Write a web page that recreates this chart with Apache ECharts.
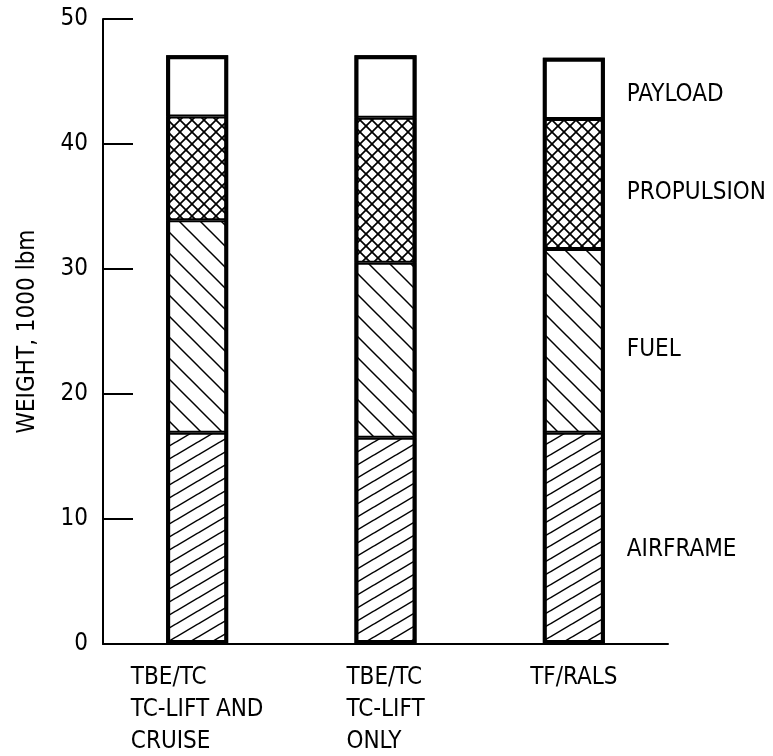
<!DOCTYPE html>
<html>
<head>
<meta charset="utf-8">
<script src="https://cdn.jsdelivr.net/npm/echarts@6/dist/echarts.min.js"></script>
<style>html,body{margin:0;background:#fff}#main{width:773px;height:756px}</style>
</head>
<body>
<div id="main"></div>
<script>
var categories = ['TBE/TC\nTC-LIFT AND\nCRUISE', 'TBE/TC\nTC-LIFT\nONLY', 'TF/RALS'];
var airframe = [16.9, 16.5, 16.9];
var fuel = [17.0, 14.0, 14.7];
var propulsion = [8.3, 11.6, 10.4];
var payload = [4.9, 5.0, 4.9];

var FONT = "'Liberation Sans Narrow', 'DejaVu Sans Condensed', sans-serif";

// hatch tile for the bar fills
function hatch(w, h, dirs, lw) {
    var c = document.createElement('canvas');
    c.width = w; c.height = h;
    var ctx = c.getContext('2d');
    ctx.fillStyle = '#fff';
    ctx.fillRect(0, 0, w, h);
    ctx.strokeStyle = '#000';
    ctx.lineWidth = lw;
    dirs.forEach(function (d) {
        for (var k = -1; k <= 1; k++) {
            ctx.beginPath();
            if (d === '/') {
                ctx.moveTo(k * w - w, 2 * h);
                ctx.lineTo(k * w + 2 * w, -h);
            } else {
                ctx.moveTo(k * w - w, -h);
                ctx.lineTo(k * w + 2 * w, 2 * h);
            }
            ctx.stroke();
        }
    });
    return { image: c, repeat: 'repeat' };
}

function seg(name, data, fill, offY) {
    return {
        name: name,
        type: 'bar',
        stack: 'w',
        barWidth: 62,
        itemStyle: { color: fill, borderColor: '#000', borderWidth: 2 },
        data: data.map(function (v, i) {
            if (i !== data.length - 1) return v;
            return {
                value: v,
                label: {
                    show: true, position: 'right', distance: 22,
                    formatter: '{a}', color: '#000',
                    fontFamily: FONT, fontSize: 24, offset: [0, offY]
                }
            };
        })
    };
}

// outline of the whole bar
var totals = airframe.map(function (v, i) {
    return +(v + fuel[i] + propulsion[i] + payload[i]).toFixed(2);
});

var chart = echarts.init(document.getElementById('main'));
chart.setOption({
    animation: false,
    backgroundColor: '#fff',
    grid: { left: 103, right: 105, top: 19, bottom: 112 },
    xAxis: {
        type: 'category',
        data: categories,
        axisLine: { lineStyle: { color: '#000', width: 2 } },
        axisTick: { show: false },
        axisLabel: {
            margin: 18,
            interval: 0,
            formatter: function (v) {
                return v.split('\n').map(function (l) { return '{l|' + l + '}'; }).join('\n');
            },
            rich: {
                l: { align: 'left', fontFamily: FONT, fontSize: 24, lineHeight: 32, color: '#000' }
            }
        }
    },
    yAxis: {
        type: 'value',
        min: 0, max: 50, interval: 10,
        name: 'WEIGHT, 1000 lbm',
        nameLocation: 'middle',
        nameGap: 63,
        nameTextStyle: { fontFamily: FONT, fontSize: 24, color: '#000' },
        axisLine: { show: true, lineStyle: { color: '#000', width: 2 } },
        axisTick: { show: true, inside: true, length: 30, lineStyle: { color: '#000', width: 2 } },
        axisLabel: { margin: 15, fontFamily: FONT, fontSize: 24, color: '#000' },
        splitLine: { show: false }
    },
    series: [
        seg('AIRFRAME', airframe, hatch(22, 13, ['/'], 1.5), 11),
        seg('FUEL', fuel, hatch(21, 21, ['\\'], 1.5), 9),
        seg('PROPULSION', propulsion, hatch(12, 12, ['/', '\\'], 1.7), 9),
        seg('PAYLOAD', payload, '#fff', 6),
        {
            name: 'outline',
            type: 'bar',
            barWidth: 62,
            barGap: '-100%',
            silent: true,
            itemStyle: { color: 'rgba(0,0,0,0)', borderColor: '#000', borderWidth: 4 },
            data: totals
        }
    ]
});
</script>
</body>
</html>
